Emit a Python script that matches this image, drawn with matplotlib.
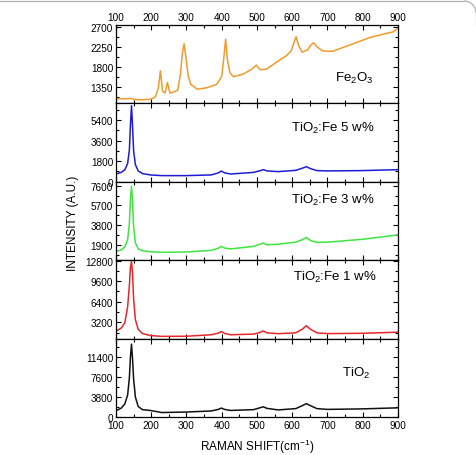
import matplotlib
matplotlib.use("Agg")
import matplotlib.pyplot as plt
from matplotlib.patches import Arc
from matplotlib.lines import Line2D
from matplotlib.ticker import MultipleLocator

plt.rcParams['font.family'] = ['Liberation Sans', 'DejaVu Sans']
plt.rcParams['mathtext.fontset'] = 'custom'
plt.rcParams['mathtext.rm'] = 'Liberation Sans'

# ---------------- data ----------------
fe2o3_x = [100, 120, 140, 160, 180, 200, 212, 220, 226, 232, 239, 246, 253, 265, 275,
           283, 288, 293, 298, 305, 312, 330, 357, 386, 400, 405, 411, 416, 423, 433,
           461, 485, 498, 509, 527, 554, 583, 597, 604, 611, 618, 628, 644, 652, 660,
           672, 686, 715, 745, 783, 820, 858, 887, 898, 900]
fe2o3_y = [1105, 1090, 1100, 1070, 1075, 1085, 1140, 1330, 1720, 1270, 1220, 1460, 1220, 1250, 1290,
           1650, 2100, 2330, 2050, 1600, 1420, 1310, 1340, 1420, 1600, 1950, 2430, 1980, 1680, 1590,
           1650, 1760, 1850, 1745, 1760, 1910, 2060, 2170, 2340, 2490, 2290, 2140, 2195, 2300, 2350,
           2250, 2170, 2160, 2250, 2360, 2470, 2545, 2600, 2670, 2680]

tio2_x = [100, 115, 125, 133, 138, 141, 144, 147, 150, 155, 163, 175, 197, 230, 300, 370,
          390, 399, 408, 425, 490, 508, 518, 528, 560, 610, 628, 640, 652, 670, 700, 800, 900]
fe5_y = [680, 830, 1050, 1600, 2800, 5000, 6650, 4800, 2700, 1500, 950, 720, 600, 540, 540, 600,
         780, 940, 780, 680, 820, 960, 1060, 950, 890, 1000, 1180, 1320, 1150, 980, 950, 980, 1060]
fe3_y = [1260, 1400, 1700, 2400, 4000, 6300, 7550, 6000, 3600, 2100, 1500, 1320, 1230, 1170, 1200, 1360,
         1560, 1740, 1580, 1500, 1740, 1950, 2060, 1900, 1950, 2150, 2380, 2600, 2300, 2130, 2150, 2430, 2850]
fe1_y = [1800, 2300, 3100, 5600, 9000, 11800, 12700, 10800, 6800, 3600, 2100, 1450, 1120, 1000, 1020, 1250,
         1500, 1750, 1450, 1250, 1350, 1600, 1850, 1550, 1420, 1550, 2100, 2650, 2100, 1550, 1430, 1480, 1650]
tio2_y = [1200, 1700, 2500, 4200, 7500, 11500, 13900, 11000, 7200, 3800, 2000, 1400, 1250, 850, 950, 1150,
          1450, 1700, 1450, 1250, 1400, 1750, 1950, 1650, 1350, 1600, 2150, 2550, 2150, 1600, 1450, 1550, 1750]

labels = ['Fe$_2$O$_3$', 'TiO$_2$:Fe 5 w%', 'TiO$_2$:Fe 3 w%', 'TiO$_2$:Fe 1 w%', 'TiO$_2$']
xs = [fe2o3_x, tio2_x, tio2_x, tio2_x, tio2_x]
ys = [fe2o3_y, fe5_y, fe3_y, fe1_y, tio2_y]
colors = ['#f39a2a', '#1c1cd6', '#3ee63e', '#e8262a', '#111111']
ylims = [(990, 2752), (0, 6850), (410, 7975), (650, 12880), (0, 14950)]
yticks = [[1350, 1800, 2250, 2700], [0, 1800, 3600, 5400], [1900, 3800, 5700, 7600],
          [3200, 6400, 9600, 12800], [0, 3800, 7600, 11400]]
ystep = [450, 1800, 1900, 3200, 3800]
label_pos = [(0.845, 0.33), (0.77, 0.69), (0.77, 0.78), (0.777, 0.79), (0.85, 0.57)]
xticks = [100, 200, 300, 400, 500, 600, 700, 800, 900]

# ---------------- figure ----------------
W, H = 477, 456
fig = plt.figure(figsize=(W / 100, H / 100), dpi=100)

# thin frame fragment (top edge with rounded top-right corner), in inches
tr = fig.dpi_scale_trans
fig.add_artist(Line2D([0, 4.64], [4.54, 4.54], transform=tr, color='#b0b0b0', lw=0.9))
fig.add_artist(Arc((4.64, 4.42), 0.24, 0.24, theta1=0, theta2=90, transform=tr,
                   color='#b0b0b0', lw=0.9))
fig.add_artist(Line2D([4.76, 4.76], [4.42, 4.30], transform=tr, color='#b0b0b0', lw=0.9))

left, right = 116, 398
top, ph = 26, 78.4
axes = []
for i in range(5):
    b = 1 - (top + (i + 1) * ph) / H
    ax = fig.add_axes([left / W, b, (right - left) / W, ph / H])
    ax.plot(xs[i], ys[i], color=colors[i], lw=1.1)
    ax.set_xlim(100, 900)
    ax.set_ylim(*ylims[i])
    ax.set_xticks(xticks)
    ax.xaxis.set_minor_locator(MultipleLocator(50))
    ax.set_yticks(yticks[i])
    ax.yaxis.set_minor_locator(MultipleLocator(ystep[i] / 2))
    ax.tick_params(which='both', direction='in', top=True, right=True, labelsize=7.2, width=0.8)
    ax.tick_params(which='major', length=3.5, pad=2)
    ax.tick_params(which='minor', length=2)
    ax.tick_params(axis='x', labelbottom=(i == 4), labeltop=(i == 0))
    for s in ax.spines.values():
        s.set_linewidth(0.9)
    ax.text(label_pos[i][0], label_pos[i][1], labels[i], transform=ax.transAxes,
            ha='center', va='center', fontsize=9.5)
    axes.append(ax)

fig.text(73 / W, 1 - 223 / H, 'INTENSITY (A.U.)', rotation=90, ha='center', va='center', fontsize=8.5)
fig.text(257 / W, 1 - 447 / H, 'RAMAN SHIFT(cm$^{-1}$)', ha='center', va='center', fontsize=8.5)

fig.savefig('out.png', dpi=100)
